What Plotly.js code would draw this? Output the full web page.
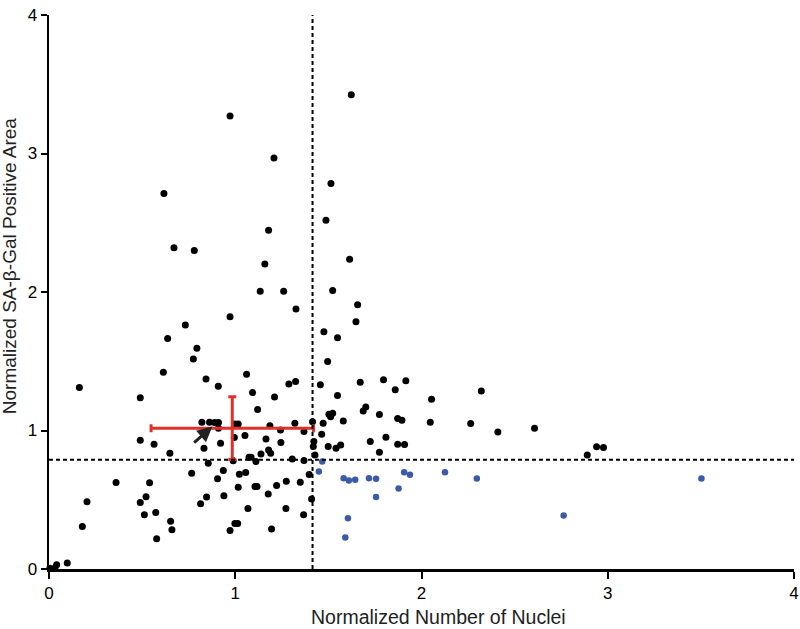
<!DOCTYPE html>
<html>
<head>
<meta charset="utf-8">
<script src="https://cdn.plot.ly/plotly-3.0.1.min.js"></script>
<style>
  html, body { margin: 0; padding: 0; background: #fff; }
  #plotArea { width: 800px; height: 629px; }
</style>
</head>
<body>
<div id="plotArea"></div>
<script>
// black points (above threshold or left of the nuclei cut-off)
var blackX = [0.972, 1.623, 1.208, 0.617, 1.514, 1.487, 1.179, 0.671, 0.780, 1.159, 1.614, 1.134, 1.260, 1.523,
  1.326, 0.972, 0.732, 0.637, 0.794, 0.775, 0.614, 0.843, 1.061, 0.909, 1.288, 1.324, 0.163, 1.093, 1.211, 0.490,
  1.120, 0.862, 0.889, 0.910, 0.821, 0.910, 0.998, 1.016, 1.186, 1.320, 1.415, 1.243, 0.995, 1.052, 1.369, 0.490,
  0.564, 0.921, 0.832, 1.165, 1.245, 0.649, 0.855, 0.989, 1.074, 1.085, 1.111, 1.138, 1.179, 1.190, 1.306, 1.369,
  1.419, 1.422, 1.428, 0.766, 0.936, 1.022, 1.056, 0.905, 0.360, 0.540, 1.106, 1.117, 1.222, 1.274, 1.349, 1.397,
  1.016, 0.939, 1.177, 0.521, 0.490, 0.846, 0.814, 0.204, 1.410, 1.068, 1.272, 0.512, 0.573, 1.367, 0.653, 0.660,
  0.179, 0.578, 0.998, 1.013, 0.972, 1.195, 0.098, 0.041, 0.032, 0.005,
  1.657, 1.648, 1.476, 1.549, 1.496, 1.457, 1.671, 1.796, 1.916, 1.859, 1.549, 2.054, 2.321, 1.701, 1.687, 1.503,
  1.523, 1.512, 1.774, 1.580, 1.472, 1.872, 1.895, 2.047, 2.264, 2.410, 2.607, 1.464, 1.809, 1.725, 1.499, 1.541,
  1.566, 1.872, 1.909, 1.774, 2.890, 2.940, 2.977];
var blackY = [3.270, 3.425, 2.968, 2.711, 2.783, 2.518, 2.446, 2.319, 2.300, 2.203, 2.237, 2.006, 2.006, 2.011,
  1.877, 1.822, 1.762, 1.665, 1.593, 1.516, 1.420, 1.372, 1.406, 1.319, 1.336, 1.353, 1.310, 1.274, 1.242, 1.237,
  1.151, 1.059, 1.057, 1.057, 1.059, 1.016, 1.047, 1.047, 1.035, 1.052, 1.064, 1.004, 0.949, 0.963, 0.992, 0.930,
  0.901, 0.908, 0.872, 0.939, 0.913, 0.836, 0.764, 0.781, 0.807, 0.807, 0.776, 0.831, 0.860, 0.836, 0.795, 0.783,
  0.884, 0.920, 0.824, 0.692, 0.711, 0.685, 0.697, 0.651, 0.625, 0.622, 0.596, 0.596, 0.603, 0.634, 0.627, 0.682,
  0.591, 0.529, 0.541, 0.521, 0.480, 0.519, 0.471, 0.485, 0.506, 0.437, 0.437, 0.392, 0.408, 0.392, 0.345, 0.283,
  0.307, 0.218, 0.329, 0.329, 0.278, 0.288, 0.043, 0.031, 0.007, 0.005,
  1.908, 1.785, 1.713, 1.670, 1.499, 1.331, 1.348, 1.367, 1.360, 1.295, 1.252, 1.225, 1.286, 1.170, 1.141, 1.117,
  1.124, 1.100, 1.115, 1.069, 1.052, 1.086, 1.074, 1.060, 1.050, 0.990, 1.016, 0.973, 0.951, 0.920, 0.884, 0.872,
  0.896, 0.901, 0.899, 0.843, 0.824, 0.882, 0.877];

// blue points (many nuclei, low SA-beta-Gal area)
var blueX = [1.467, 1.449, 1.582, 1.610, 1.644, 1.718, 1.756, 1.907, 1.938, 2.126, 2.297, 1.756, 1.877, 1.605, 1.591, 2.763, 3.503];
var blueY = [0.776, 0.704, 0.656, 0.639, 0.644, 0.656, 0.651, 0.699, 0.680, 0.699, 0.653, 0.519, 0.581, 0.367, 0.228, 0.386, 0.653];

// mean with error bars
var meanX = [0.984];
var meanY = [1.017];
var errX = [0.436];
var errY = [0.226];

// threshold lines
var cutX = 1.415;
var cutY = 0.788;

var font = '"Liberation Sans", Arial, Helvetica, sans-serif';

var data = [
  {
    x: blackX, y: blackY,
    mode: 'markers', type: 'scatter',
    marker: { size: 7, color: '#000000' },
    cliponaxis: false,
    showlegend: false
  },
  {
    x: blueX, y: blueY,
    mode: 'markers', type: 'scatter',
    marker: { size: 6.5, color: '#3b5ba6' },
    showlegend: false
  },
  {
    x: meanX, y: meanY,
    mode: 'markers', type: 'scatter',
    marker: { size: 4, color: '#e0302a' },
    error_x: { type: 'constant', value: errX[0], color: '#e0302a', thickness: 3, width: 4 },
    error_y: { type: 'constant', value: errY[0], color: '#e0302a', thickness: 3, width: 4 },
    showlegend: false
  }
];

var layout = {
  width: 800,
  height: 629,
  margin: { l: 49, r: 6, t: 15, b: 60 },
  paper_bgcolor: '#ffffff',
  plot_bgcolor: '#ffffff',
  font: { family: font, size: 17, color: '#000' },
  xaxis: {
    range: [0, 4],
    tickvals: [0, 1, 2, 3, 4],
    showgrid: false, zeroline: false,
    showline: true, linecolor: '#000', linewidth: 2.5,
    ticks: 'outside', ticklen: 7, tickwidth: 2, tickcolor: '#000',
    tickfont: { size: 17, color: '#000' }
  },
  yaxis: {
    range: [0, 4],
    tickvals: [0, 1, 2, 3, 4],
    showgrid: false, zeroline: false,
    showline: true, linecolor: '#000', linewidth: 2.5,
    ticks: 'outside', ticklen: 6, tickwidth: 2, tickcolor: '#000',
    tickfont: { size: 17, color: '#000' }
  },
  shapes: [
    { type: 'line', xref: 'x', yref: 'y', x0: cutX, x1: cutX, y0: 0, y1: 4,
      line: { color: '#000', width: 2, dash: '4px,3px' } },
    { type: 'line', xref: 'x', yref: 'y', x0: 0, x1: 4, y0: cutY, y1: cutY,
      line: { color: '#000', width: 2, dash: '4px,3px' } }
  ],
  annotations: [
    { x: 0.877, y: 1.028, xref: 'x', yref: 'y',
      ax: 0.771, ay: 0.903, axref: 'x', ayref: 'y',
      showarrow: true, arrowhead: 2, arrowsize: 1, arrowwidth: 3, arrowcolor: '#222', text: '' },
    // axis titles placed as in the reference (slightly off-centre)
    { text: 'Normalized Number of Nuclei', xref: 'x', yref: 'paper', x: 2.093, y: -0.086,
      xanchor: 'center', yanchor: 'middle', showarrow: false, font: { size: 19.5, color: '#222' } },
    { text: 'Normalized SA-β-Gal Positive Area', xref: 'paper', yref: 'y', x: -0.053, y: 2.183,
      xanchor: 'center', yanchor: 'middle', textangle: -90, showarrow: false, font: { size: 19, color: '#222' } }
  ]
};

Plotly.newPlot('plotArea', data, layout, { displayModeBar: false, staticPlot: true });
</script>
</body>
</html>
